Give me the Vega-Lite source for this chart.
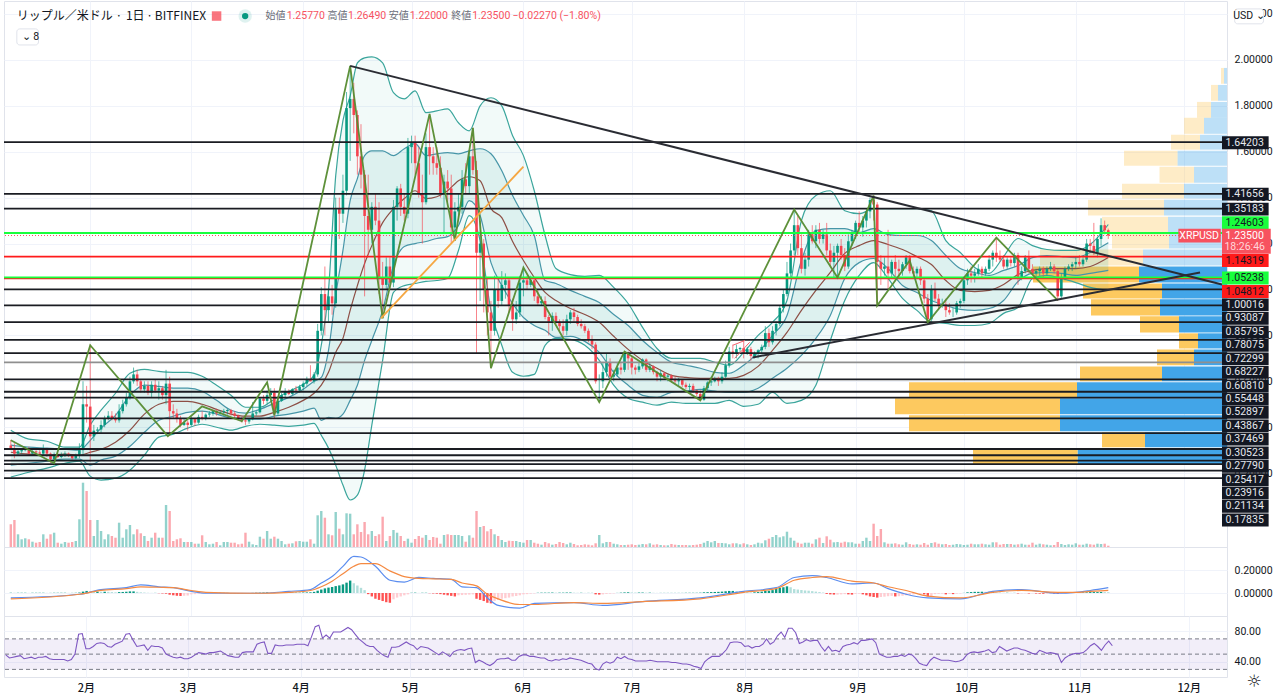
{
"$schema":"https://vega.github.io/schema/vega-lite/v6.json",
"padding":{"left":2,"top":0,"right":0,"bottom":0},
"background":"white",
"bounds":"flush",
"spacing":0,
"config":{"view":{"stroke":"#e0e3eb"},"font":"Roboto"},
"datasets":{
"candles":[
{"d":"2021-01-10","o":0.32,"h":0.345,"l":0.3,"c":0.31,"v":227,"m":0.003,"r":49},
{"d":"2021-01-11","o":0.31,"h":0.33,"l":0.265,"c":0.285,"v":270,"m":0.002,"r":45},
{"d":"2021-01-12","o":0.285,"h":0.305,"l":0.275,"c":0.295,"v":127,"m":0.002,"r":46},
{"d":"2021-01-13","o":0.295,"h":0.31,"l":0.285,"c":0.3,"v":77,"m":0.002,"r":47},
{"d":"2021-01-14","o":0.3,"h":0.315,"l":0.295,"c":0.305,"v":87,"m":0.002,"r":48},
{"d":"2021-01-15","o":0.305,"h":0.315,"l":0.275,"c":0.285,"v":77,"m":0.001,"r":44},
{"d":"2021-01-16","o":0.285,"h":0.3,"l":0.28,"c":0.295,"v":53,"m":0.002,"r":45},
{"d":"2021-01-17","o":0.295,"h":0.3,"l":0.285,"c":0.29,"v":43,"m":0.002,"r":46},
{"d":"2021-01-18","o":0.29,"h":0.3,"l":0.28,"c":0.285,"v":50,"m":0.002,"r":44},
{"d":"2021-01-19","o":0.285,"h":0.325,"l":0.275,"c":0.305,"v":127,"m":0.002,"r":46},
{"d":"2021-01-20","o":0.305,"h":0.31,"l":0.27,"c":0.285,"v":83,"m":0.001,"r":46},
{"d":"2021-01-21","o":0.285,"h":0.29,"l":0.245,"c":0.26,"v":127,"m":0.001,"r":47},
{"d":"2021-01-22","o":0.26,"h":0.29,"l":0.24,"c":0.28,"v":143,"m":0.002,"r":44},
{"d":"2021-01-23","o":0.28,"h":0.285,"l":0.265,"c":0.27,"v":43,"m":0.002,"r":43},
{"d":"2021-01-24","o":0.27,"h":0.29,"l":0.265,"c":0.28,"v":33,"m":0.002,"r":43},
{"d":"2021-01-25","o":0.28,"h":0.295,"l":0.27,"c":0.285,"v":50,"m":0.002,"r":43},
{"d":"2021-01-26","o":0.285,"h":0.29,"l":0.27,"c":0.275,"v":43,"m":0.001,"r":43},
{"d":"2021-01-27","o":0.275,"h":0.28,"l":0.255,"c":0.265,"v":50,"m":0.001,"r":41},
{"d":"2021-01-28","o":0.265,"h":0.285,"l":0.26,"c":0.275,"v":60,"m":0.002,"r":43},
{"d":"2021-01-29","o":0.275,"h":0.33,"l":0.265,"c":0.3,"v":277,"m":0.004,"r":50},
{"d":"2021-01-30","o":0.3,"h":0.6,"l":0.28,"c":0.5,"v":643,"m":0.012,"r":76},
{"d":"2021-01-31","o":0.5,"h":0.58,"l":0.42,"c":0.49,"v":560,"m":0.018,"r":77},
{"d":"2021-02-01","o":0.49,"h":0.76,"l":0.25,"c":0.36,"v":270,"m":0.014,"r":57},
{"d":"2021-02-02","o":0.36,"h":0.41,"l":0.34,"c":0.385,"v":110,"m":0.012,"r":57},
{"d":"2021-02-03","o":0.385,"h":0.4,"l":0.37,"c":0.39,"v":270,"m":0.012,"r":60},
{"d":"2021-02-04","o":0.39,"h":0.43,"l":0.375,"c":0.41,"v":160,"m":0.011,"r":64},
{"d":"2021-02-05","o":0.41,"h":0.45,"l":0.4,"c":0.44,"v":77,"m":0.011,"r":65},
{"d":"2021-02-06","o":0.44,"h":0.47,"l":0.43,"c":0.45,"v":127,"m":0.01,"r":64},
{"d":"2021-02-07","o":0.45,"h":0.47,"l":0.43,"c":0.44,"v":110,"m":0.008,"r":60},
{"d":"2021-02-08","o":0.44,"h":0.46,"l":0.42,"c":0.43,"v":93,"m":0.006,"r":59},
{"d":"2021-02-09","o":0.43,"h":0.5,"l":0.42,"c":0.47,"v":243,"m":0.008,"r":63},
{"d":"2021-02-10","o":0.47,"h":0.52,"l":0.46,"c":0.5,"v":93,"m":0.009,"r":65},
{"d":"2021-02-11","o":0.5,"h":0.55,"l":0.49,"c":0.53,"v":177,"m":0.011,"r":67},
{"d":"2021-02-12","o":0.53,"h":0.62,"l":0.52,"c":0.6,"v":220,"m":0.014,"r":76},
{"d":"2021-02-13","o":0.6,"h":0.66,"l":0.59,"c":0.63,"v":127,"m":0.014,"r":77},
{"d":"2021-02-14","o":0.63,"h":0.65,"l":0.58,"c":0.6,"v":177,"m":0.01,"r":68},
{"d":"2021-02-15","o":0.6,"h":0.61,"l":0.55,"c":0.565,"v":137,"m":0.006,"r":60},
{"d":"2021-02-16","o":0.565,"h":0.6,"l":0.55,"c":0.58,"v":110,"m":0.004,"r":61},
{"d":"2021-02-17","o":0.58,"h":0.6,"l":0.54,"c":0.55,"v":60,"m":0.002,"r":62},
{"d":"2021-02-18","o":0.55,"h":0.6,"l":0.53,"c":0.585,"v":93,"m":0.001,"r":55},
{"d":"2021-02-19","o":0.585,"h":0.61,"l":0.55,"c":0.56,"v":143,"m":0.001,"r":61},
{"d":"2021-02-20","o":0.56,"h":0.6,"l":0.52,"c":0.57,"v":93,"m":-0.002,"r":60},
{"d":"2021-02-21","o":0.57,"h":0.58,"l":0.52,"c":0.54,"v":93,"m":-0.004,"r":60},
{"d":"2021-02-22","o":0.54,"h":0.65,"l":0.5,"c":0.59,"v":420,"m":-0.006,"r":58},
{"d":"2021-02-23","o":0.59,"h":0.62,"l":0.365,"c":0.47,"v":360,"m":-0.015,"r":50},
{"d":"2021-02-24","o":0.47,"h":0.5,"l":0.44,"c":0.46,"v":60,"m":-0.02,"r":48},
{"d":"2021-02-25","o":0.46,"h":0.48,"l":0.42,"c":0.44,"v":77,"m":-0.024,"r":46},
{"d":"2021-02-26","o":0.44,"h":0.45,"l":0.4,"c":0.41,"v":87,"m":-0.026,"r":45},
{"d":"2021-02-27","o":0.41,"h":0.44,"l":0.405,"c":0.42,"v":50,"m":-0.024,"r":46},
{"d":"2021-02-28","o":0.42,"h":0.43,"l":0.385,"c":0.41,"v":50,"m":-0.022,"r":44},
{"d":"2021-03-01","o":0.41,"h":0.445,"l":0.405,"c":0.435,"v":50,"m":-0.012,"r":44},
{"d":"2021-03-02","o":0.435,"h":0.44,"l":0.405,"c":0.42,"v":33,"m":-0.01,"r":46},
{"d":"2021-03-03","o":0.42,"h":0.455,"l":0.415,"c":0.445,"v":33,"m":-0.006,"r":49},
{"d":"2021-03-04","o":0.445,"h":0.47,"l":0.43,"c":0.44,"v":117,"m":-0.004,"r":52},
{"d":"2021-03-05","o":0.44,"h":0.46,"l":0.43,"c":0.455,"v":50,"m":-0.002,"r":51},
{"d":"2021-03-06","o":0.455,"h":0.47,"l":0.445,"c":0.46,"v":27,"m":0.001,"r":50},
{"d":"2021-03-07","o":0.46,"h":0.475,"l":0.45,"c":0.47,"v":33,"m":0.001,"r":52},
{"d":"2021-03-08","o":0.47,"h":0.48,"l":0.45,"c":0.46,"v":50,"m":0.001,"r":52},
{"d":"2021-03-09","o":0.46,"h":0.475,"l":0.455,"c":0.465,"v":17,"m":0.001,"r":53},
{"d":"2021-03-10","o":0.465,"h":0.48,"l":0.45,"c":0.47,"v":50,"m":0.001,"r":54},
{"d":"2021-03-11","o":0.47,"h":0.48,"l":0.455,"c":0.475,"v":50,"m":0.001,"r":51},
{"d":"2021-03-12","o":0.475,"h":0.48,"l":0.45,"c":0.46,"v":43,"m":-0.001,"r":48},
{"d":"2021-03-13","o":0.46,"h":0.47,"l":0.44,"c":0.45,"v":43,"m":-0.002,"r":47},
{"d":"2021-03-14","o":0.45,"h":0.455,"l":0.43,"c":0.44,"v":27,"m":-0.003,"r":46},
{"d":"2021-03-15","o":0.44,"h":0.445,"l":0.42,"c":0.43,"v":33,"m":-0.003,"r":46},
{"d":"2021-03-16","o":0.43,"h":0.445,"l":0.41,"c":0.425,"v":143,"m":-0.002,"r":52},
{"d":"2021-03-17","o":0.425,"h":0.44,"l":0.415,"c":0.435,"v":53,"m":-0.001,"r":53},
{"d":"2021-03-18","o":0.435,"h":0.51,"l":0.43,"c":0.46,"v":27,"m":0.001,"r":53},
{"d":"2021-03-19","o":0.46,"h":0.47,"l":0.45,"c":0.465,"v":20,"m":0.002,"r":53},
{"d":"2021-03-20","o":0.465,"h":0.53,"l":0.46,"c":0.525,"v":103,"m":0.003,"r":63},
{"d":"2021-03-21","o":0.525,"h":0.54,"l":0.5,"c":0.515,"v":83,"m":0.004,"r":65},
{"d":"2021-03-22","o":0.515,"h":0.56,"l":0.5,"c":0.54,"v":160,"m":0.005,"r":66},
{"d":"2021-03-23","o":0.54,"h":0.57,"l":0.53,"c":0.55,"v":83,"m":0.004,"r":51},
{"d":"2021-03-24","o":0.55,"h":0.57,"l":0.44,"c":0.46,"v":103,"m":0.002,"r":51},
{"d":"2021-03-25","o":0.46,"h":0.53,"l":0.45,"c":0.515,"v":83,"m":0.002,"r":62},
{"d":"2021-03-26","o":0.515,"h":0.55,"l":0.51,"c":0.54,"v":60,"m":0.002,"r":61},
{"d":"2021-03-27","o":0.54,"h":0.57,"l":0.53,"c":0.555,"v":27,"m":0.002,"r":61},
{"d":"2021-03-28","o":0.555,"h":0.565,"l":0.54,"c":0.545,"v":33,"m":0.002,"r":62},
{"d":"2021-03-29","o":0.545,"h":0.57,"l":0.54,"c":0.565,"v":37,"m":0.003,"r":62},
{"d":"2021-03-30","o":0.565,"h":0.58,"l":0.55,"c":0.56,"v":57,"m":0.003,"r":62},
{"d":"2021-03-31","o":0.56,"h":0.585,"l":0.55,"c":0.575,"v":60,"m":0.003,"r":63},
{"d":"2021-04-01","o":0.575,"h":0.6,"l":0.56,"c":0.59,"v":53,"m":0.004,"r":63},
{"d":"2021-04-02","o":0.59,"h":0.62,"l":0.58,"c":0.61,"v":53,"m":0.005,"r":63},
{"d":"2021-04-03","o":0.61,"h":0.67,"l":0.6,"c":0.6,"v":77,"m":0.006,"r":61},
{"d":"2021-04-04","o":0.6,"h":0.64,"l":0.59,"c":0.63,"v":33,"m":0.01,"r":73},
{"d":"2021-04-05","o":0.63,"h":0.85,"l":0.62,"c":0.82,"v":317,"m":0.02,"r":86},
{"d":"2021-04-06","o":0.82,"h":1.01,"l":0.8,"c":0.98,"v":360,"m":0.03,"r":88},
{"d":"2021-04-07","o":0.98,"h":1.1,"l":0.8,"c":0.91,"v":293,"m":0.04,"r":71},
{"d":"2021-04-08","o":0.91,"h":1.0,"l":0.86,"c":0.97,"v":127,"m":0.047,"r":75},
{"d":"2021-04-09","o":0.97,"h":1.02,"l":0.89,"c":0.94,"v":117,"m":0.052,"r":71},
{"d":"2021-04-10","o":0.94,"h":1.4,"l":0.92,"c":1.35,"v":350,"m":0.06,"r":79},
{"d":"2021-04-11","o":1.35,"h":1.4,"l":1.22,"c":1.33,"v":183,"m":0.066,"r":79},
{"d":"2021-04-12","o":1.33,"h":1.5,"l":1.29,"c":1.43,"v":127,"m":0.075,"r":79},
{"d":"2021-04-13","o":1.43,"h":1.86,"l":1.41,"c":1.79,"v":337,"m":0.09,"r":82},
{"d":"2021-04-14","o":1.79,"h":1.974,"l":1.56,"c":1.83,"v":333,"m":0.108,"r":85},
{"d":"2021-04-15","o":1.83,"h":1.9,"l":1.68,"c":1.76,"v":127,"m":0.085,"r":82},
{"d":"2021-04-16","o":1.76,"h":1.78,"l":1.5,"c":1.58,"v":227,"m":0.065,"r":76},
{"d":"2021-04-17","o":1.58,"h":1.72,"l":1.44,"c":1.5,"v":150,"m":0.045,"r":70},
{"d":"2021-04-18","o":1.5,"h":1.52,"l":0.97,"c":1.32,"v":250,"m":0.025,"r":66},
{"d":"2021-04-19","o":1.32,"h":1.5,"l":1.15,"c":1.26,"v":127,"m":-0.01,"r":62},
{"d":"2021-04-20","o":1.26,"h":1.38,"l":1.2,"c":1.36,"v":160,"m":-0.03,"r":60},
{"d":"2021-04-21","o":1.36,"h":1.42,"l":1.28,"c":1.3,"v":110,"m":-0.05,"r":60},
{"d":"2021-04-22","o":1.3,"h":1.38,"l":0.98,"c":1.05,"v":127,"m":-0.06,"r":55},
{"d":"2021-04-23","o":1.05,"h":1.12,"l":0.88,"c":1.02,"v":303,"m":-0.07,"r":51},
{"d":"2021-04-24","o":1.02,"h":1.14,"l":1.0,"c":1.1,"v":60,"m":-0.08,"r":48},
{"d":"2021-04-25","o":1.1,"h":1.14,"l":1.0,"c":1.03,"v":110,"m":-0.085,"r":46},
{"d":"2021-04-26","o":1.03,"h":1.39,"l":1.01,"c":1.36,"v":170,"m":-0.055,"r":59},
{"d":"2021-04-27","o":1.36,"h":1.45,"l":1.3,"c":1.44,"v":143,"m":-0.04,"r":59},
{"d":"2021-04-28","o":1.44,"h":1.46,"l":1.32,"c":1.36,"v":110,"m":-0.03,"r":60},
{"d":"2021-04-29","o":1.36,"h":1.42,"l":1.3,"c":1.33,"v":60,"m":-0.02,"r":63},
{"d":"2021-04-30","o":1.33,"h":1.66,"l":1.31,"c":1.62,"v":83,"m":-0.012,"r":66},
{"d":"2021-05-01","o":1.62,"h":1.67,"l":1.55,"c":1.64,"v":43,"m":0.002,"r":63},
{"d":"2021-05-02","o":1.64,"h":1.67,"l":1.5,"c":1.55,"v":80,"m":0.003,"r":61},
{"d":"2021-05-03","o":1.55,"h":1.62,"l":1.4,"c":1.42,"v":110,"m":0.001,"r":56},
{"d":"2021-05-04","o":1.42,"h":1.5,"l":1.2,"c":1.38,"v":93,"m":0.002,"r":60},
{"d":"2021-05-05","o":1.38,"h":1.68,"l":1.37,"c":1.62,"v":120,"m":0.002,"r":59},
{"d":"2021-05-06","o":1.62,"h":1.765,"l":1.5,"c":1.58,"v":70,"m":-0.002,"r":58},
{"d":"2021-05-07","o":1.58,"h":1.62,"l":1.5,"c":1.55,"v":100,"m":-0.004,"r":55},
{"d":"2021-05-08","o":1.55,"h":1.62,"l":1.5,"c":1.53,"v":93,"m":-0.006,"r":52},
{"d":"2021-05-09","o":1.53,"h":1.58,"l":1.4,"c":1.42,"v":33,"m":-0.01,"r":49},
{"d":"2021-05-10","o":1.42,"h":1.5,"l":1.25,"c":1.47,"v":120,"m":-0.015,"r":53},
{"d":"2021-05-11","o":1.47,"h":1.52,"l":1.38,"c":1.44,"v":127,"m":-0.02,"r":50},
{"d":"2021-05-12","o":1.44,"h":1.5,"l":1.2,"c":1.27,"v":120,"m":-0.025,"r":47},
{"d":"2021-05-13","o":1.27,"h":1.38,"l":1.213,"c":1.34,"v":120,"m":-0.03,"r":53},
{"d":"2021-05-14","o":1.34,"h":1.42,"l":1.3,"c":1.36,"v":120,"m":-0.02,"r":55},
{"d":"2021-05-15","o":1.36,"h":1.52,"l":1.33,"c":1.48,"v":110,"m":-0.018,"r":56},
{"d":"2021-05-16","o":1.48,"h":1.55,"l":1.42,"c":1.45,"v":53,"m":-0.016,"r":55},
{"d":"2021-05-17","o":1.45,"h":1.6,"l":1.42,"c":1.58,"v":117,"m":-0.014,"r":57},
{"d":"2021-05-18","o":1.58,"h":1.704,"l":1.5,"c":1.52,"v":93,"m":-0.012,"r":58},
{"d":"2021-05-19","o":1.52,"h":1.56,"l":0.72,"c":1.16,"v":360,"m":-0.05,"r":39},
{"d":"2021-05-20","o":1.16,"h":1.3,"l":0.95,"c":1.2,"v":200,"m":-0.06,"r":42},
{"d":"2021-05-21","o":1.2,"h":1.22,"l":0.9,"c":1.0,"v":210,"m":-0.07,"r":40},
{"d":"2021-05-22","o":1.0,"h":1.05,"l":0.8,"c":0.9,"v":157,"m":-0.085,"r":37},
{"d":"2021-05-23","o":0.9,"h":0.95,"l":0.657,"c":0.82,"v":180,"m":-0.09,"r":35},
{"d":"2021-05-24","o":0.82,"h":1.06,"l":0.8,"c":1.0,"v":127,"m":-0.07,"r":38},
{"d":"2021-05-25","o":1.0,"h":1.05,"l":0.92,"c":0.95,"v":110,"m":-0.06,"r":43},
{"d":"2021-05-26","o":0.95,"h":1.08,"l":0.93,"c":1.02,"v":70,"m":-0.05,"r":44},
{"d":"2021-05-27","o":1.02,"h":1.07,"l":0.96,"c":1.04,"v":50,"m":-0.045,"r":44},
{"d":"2021-05-28","o":1.04,"h":1.05,"l":0.9,"c":0.93,"v":63,"m":-0.04,"r":45},
{"d":"2021-05-29","o":0.93,"h":0.96,"l":0.82,"c":0.87,"v":60,"m":-0.03,"r":42},
{"d":"2021-05-30","o":0.87,"h":0.95,"l":0.85,"c":0.9,"v":60,"m":-0.025,"r":42},
{"d":"2021-05-31","o":0.9,"h":1.06,"l":0.88,"c":1.03,"v":50,"m":-0.02,"r":47},
{"d":"2021-06-01","o":1.03,"h":1.09,"l":0.97,"c":1.04,"v":43,"m":-0.012,"r":49},
{"d":"2021-06-02","o":1.04,"h":1.06,"l":1.0,"c":1.02,"v":70,"m":-0.01,"r":49},
{"d":"2021-06-03","o":1.02,"h":1.06,"l":1.01,"c":1.04,"v":70,"m":-0.006,"r":47},
{"d":"2021-06-04","o":1.04,"h":1.05,"l":0.95,"c":0.97,"v":43,"m":-0.004,"r":47},
{"d":"2021-06-05","o":0.97,"h":1.0,"l":0.93,"c":0.94,"v":33,"m":0.002,"r":46},
{"d":"2021-06-06","o":0.94,"h":0.97,"l":0.93,"c":0.95,"v":23,"m":0.003,"r":45},
{"d":"2021-06-07","o":0.95,"h":0.97,"l":0.87,"c":0.88,"v":50,"m":0.003,"r":45},
{"d":"2021-06-08","o":0.88,"h":0.89,"l":0.8,"c":0.86,"v":37,"m":0.003,"r":42},
{"d":"2021-06-09","o":0.86,"h":0.9,"l":0.82,"c":0.885,"v":23,"m":0.004,"r":41},
{"d":"2021-06-10","o":0.885,"h":0.9,"l":0.85,"c":0.86,"v":30,"m":0.003,"r":43},
{"d":"2021-06-11","o":0.86,"h":0.87,"l":0.82,"c":0.84,"v":50,"m":0.003,"r":42},
{"d":"2021-06-12","o":0.84,"h":0.87,"l":0.8,"c":0.82,"v":40,"m":0.003,"r":44},
{"d":"2021-06-13","o":0.82,"h":0.89,"l":0.8,"c":0.87,"v":27,"m":0.004,"r":43},
{"d":"2021-06-14","o":0.87,"h":0.91,"l":0.85,"c":0.9,"v":43,"m":0.004,"r":45},
{"d":"2021-06-15","o":0.9,"h":0.92,"l":0.86,"c":0.88,"v":30,"m":0.003,"r":44},
{"d":"2021-06-16","o":0.88,"h":0.89,"l":0.84,"c":0.85,"v":17,"m":0.002,"r":43},
{"d":"2021-06-17","o":0.85,"h":0.87,"l":0.83,"c":0.84,"v":20,"m":0.002,"r":42},
{"d":"2021-06-18","o":0.84,"h":0.85,"l":0.81,"c":0.82,"v":27,"m":0.001,"r":40},
{"d":"2021-06-19","o":0.82,"h":0.83,"l":0.77,"c":0.78,"v":23,"m":0.001,"r":38},
{"d":"2021-06-20","o":0.78,"h":0.8,"l":0.74,"c":0.76,"v":17,"m":0.001,"r":37},
{"d":"2021-06-21","o":0.76,"h":0.77,"l":0.59,"c":0.6,"v":37,"m":-0.012,"r":31},
{"d":"2021-06-22","o":0.6,"h":0.63,"l":0.51,"c":0.6,"v":120,"m":-0.014,"r":29},
{"d":"2021-06-23","o":0.6,"h":0.68,"l":0.57,"c":0.64,"v":37,"m":-0.012,"r":37},
{"d":"2021-06-24","o":0.64,"h":0.72,"l":0.62,"c":0.68,"v":50,"m":-0.008,"r":40},
{"d":"2021-06-25","o":0.68,"h":0.7,"l":0.61,"c":0.62,"v":50,"m":-0.006,"r":38},
{"d":"2021-06-26","o":0.62,"h":0.65,"l":0.6,"c":0.63,"v":33,"m":-0.004,"r":40},
{"d":"2021-06-27","o":0.63,"h":0.68,"l":0.62,"c":0.66,"v":27,"m":0.001,"r":46},
{"d":"2021-06-28","o":0.66,"h":0.68,"l":0.63,"c":0.65,"v":20,"m":0.003,"r":44},
{"d":"2021-06-29","o":0.65,"h":0.73,"l":0.64,"c":0.72,"v":20,"m":0.005,"r":47},
{"d":"2021-06-30","o":0.72,"h":0.73,"l":0.65,"c":0.7,"v":23,"m":0.006,"r":44},
{"d":"2021-07-01","o":0.7,"h":0.71,"l":0.63,"c":0.66,"v":27,"m":0.005,"r":43},
{"d":"2021-07-02","o":0.66,"h":0.67,"l":0.63,"c":0.65,"v":20,"m":0.004,"r":41},
{"d":"2021-07-03","o":0.65,"h":0.68,"l":0.64,"c":0.665,"v":23,"m":0.004,"r":41},
{"d":"2021-07-04","o":0.665,"h":0.7,"l":0.655,"c":0.695,"v":30,"m":0.004,"r":41},
{"d":"2021-07-05","o":0.695,"h":0.7,"l":0.64,"c":0.65,"v":27,"m":0.003,"r":41},
{"d":"2021-07-06","o":0.65,"h":0.68,"l":0.64,"c":0.665,"v":37,"m":0.003,"r":42},
{"d":"2021-07-07","o":0.665,"h":0.67,"l":0.63,"c":0.64,"v":23,"m":0.002,"r":41},
{"d":"2021-07-08","o":0.64,"h":0.645,"l":0.6,"c":0.62,"v":27,"m":0.001,"r":40},
{"d":"2021-07-09","o":0.62,"h":0.65,"l":0.6,"c":0.635,"v":20,"m":0.001,"r":40},
{"d":"2021-07-10","o":0.635,"h":0.64,"l":0.61,"c":0.62,"v":17,"m":0.001,"r":40},
{"d":"2021-07-11","o":0.62,"h":0.63,"l":0.6,"c":0.625,"v":17,"m":0.001,"r":40},
{"d":"2021-07-12","o":0.625,"h":0.63,"l":0.595,"c":0.605,"v":30,"m":0.001,"r":39},
{"d":"2021-07-13","o":0.605,"h":0.62,"l":0.59,"c":0.6,"v":23,"m":0.001,"r":39},
{"d":"2021-07-14","o":0.6,"h":0.615,"l":0.58,"c":0.605,"v":20,"m":0.001,"r":38},
{"d":"2021-07-15","o":0.605,"h":0.61,"l":0.575,"c":0.585,"v":20,"m":0.001,"r":37},
{"d":"2021-07-16","o":0.585,"h":0.595,"l":0.565,"c":0.575,"v":20,"m":0.002,"r":37},
{"d":"2021-07-17","o":0.575,"h":0.59,"l":0.56,"c":0.58,"v":17,"m":0.002,"r":36},
{"d":"2021-07-18","o":0.58,"h":0.59,"l":0.55,"c":0.56,"v":20,"m":0.002,"r":34},
{"d":"2021-07-19","o":0.56,"h":0.565,"l":0.535,"c":0.545,"v":23,"m":0.002,"r":33},
{"d":"2021-07-20","o":0.545,"h":0.56,"l":0.515,"c":0.52,"v":30,"m":0.003,"r":31},
{"d":"2021-07-21","o":0.52,"h":0.58,"l":0.515,"c":0.57,"v":43,"m":0.006,"r":40},
{"d":"2021-07-22","o":0.57,"h":0.6,"l":0.56,"c":0.595,"v":60,"m":0.007,"r":44},
{"d":"2021-07-23","o":0.595,"h":0.62,"l":0.58,"c":0.6,"v":47,"m":0.008,"r":47},
{"d":"2021-07-24","o":0.6,"h":0.62,"l":0.595,"c":0.61,"v":60,"m":0.009,"r":47},
{"d":"2021-07-25","o":0.61,"h":0.62,"l":0.58,"c":0.6,"v":40,"m":0.01,"r":47},
{"d":"2021-07-26","o":0.6,"h":0.64,"l":0.59,"c":0.62,"v":40,"m":0.012,"r":51},
{"d":"2021-07-27","o":0.62,"h":0.69,"l":0.61,"c":0.67,"v":37,"m":0.015,"r":56},
{"d":"2021-07-28","o":0.67,"h":0.75,"l":0.66,"c":0.73,"v":27,"m":0.018,"r":65},
{"d":"2021-07-29","o":0.73,"h":0.76,"l":0.7,"c":0.72,"v":37,"m":0.018,"r":66},
{"d":"2021-07-30","o":0.72,"h":0.76,"l":0.7,"c":0.74,"v":37,"m":0.017,"r":66},
{"d":"2021-07-31","o":0.74,"h":0.75,"l":0.72,"c":0.745,"v":27,"m":0.015,"r":65},
{"d":"2021-08-01","o":0.745,"h":0.78,"l":0.7,"c":0.72,"v":37,"m":0.012,"r":60},
{"d":"2021-08-02","o":0.72,"h":0.75,"l":0.715,"c":0.74,"v":27,"m":0.008,"r":61},
{"d":"2021-08-03","o":0.74,"h":0.75,"l":0.69,"c":0.71,"v":20,"m":0.005,"r":58},
{"d":"2021-08-04","o":0.71,"h":0.73,"l":0.7,"c":0.72,"v":27,"m":0.006,"r":60},
{"d":"2021-08-05","o":0.72,"h":0.74,"l":0.7,"c":0.735,"v":43,"m":0.008,"r":60},
{"d":"2021-08-06","o":0.735,"h":0.76,"l":0.72,"c":0.75,"v":37,"m":0.012,"r":63},
{"d":"2021-08-07","o":0.75,"h":0.84,"l":0.74,"c":0.81,"v":67,"m":0.018,"r":70},
{"d":"2021-08-08","o":0.81,"h":0.83,"l":0.75,"c":0.77,"v":83,"m":0.02,"r":63},
{"d":"2021-08-09","o":0.77,"h":0.84,"l":0.76,"c":0.82,"v":100,"m":0.025,"r":66},
{"d":"2021-08-10","o":0.82,"h":0.86,"l":0.8,"c":0.85,"v":120,"m":0.035,"r":74},
{"d":"2021-08-11","o":0.85,"h":0.93,"l":0.84,"c":0.92,"v":97,"m":0.045,"r":79},
{"d":"2021-08-12","o":0.92,"h":1.0,"l":0.9,"c":0.98,"v":107,"m":0.05,"r":72},
{"d":"2021-08-13","o":0.98,"h":1.12,"l":0.97,"c":1.07,"v":153,"m":0.058,"r":84},
{"d":"2021-08-14","o":1.07,"h":1.2,"l":1.05,"c":1.17,"v":93,"m":0.05,"r":84},
{"d":"2021-08-15","o":1.17,"h":1.348,"l":1.15,"c":1.28,"v":63,"m":0.034,"r":78},
{"d":"2021-08-16","o":1.28,"h":1.32,"l":1.15,"c":1.18,"v":43,"m":0.03,"r":64},
{"d":"2021-08-17","o":1.18,"h":1.24,"l":1.07,"c":1.09,"v":33,"m":0.026,"r":66},
{"d":"2021-08-18","o":1.09,"h":1.16,"l":1.06,"c":1.13,"v":43,"m":0.022,"r":69},
{"d":"2021-08-19","o":1.13,"h":1.26,"l":1.1,"c":1.24,"v":43,"m":0.02,"r":67},
{"d":"2021-08-20","o":1.24,"h":1.28,"l":1.2,"c":1.21,"v":33,"m":0.016,"r":68},
{"d":"2021-08-21","o":1.21,"h":1.28,"l":1.18,"c":1.26,"v":77,"m":0.012,"r":68},
{"d":"2021-08-22","o":1.26,"h":1.29,"l":1.2,"c":1.22,"v":93,"m":0.008,"r":60},
{"d":"2021-08-23","o":1.22,"h":1.26,"l":1.2,"c":1.24,"v":40,"m":0.004,"r":54},
{"d":"2021-08-24","o":1.24,"h":1.29,"l":1.15,"c":1.17,"v":107,"m":-0.008,"r":60},
{"d":"2021-08-25","o":1.17,"h":1.2,"l":1.1,"c":1.12,"v":73,"m":-0.012,"r":54},
{"d":"2021-08-26","o":1.12,"h":1.19,"l":1.05,"c":1.16,"v":47,"m":-0.014,"r":55},
{"d":"2021-08-27","o":1.16,"h":1.2,"l":1.052,"c":1.19,"v":50,"m":-0.014,"r":53},
{"d":"2021-08-28","o":1.19,"h":1.22,"l":1.13,"c":1.15,"v":43,"m":-0.012,"r":60},
{"d":"2021-08-29","o":1.15,"h":1.18,"l":1.08,"c":1.1,"v":53,"m":-0.01,"r":62},
{"d":"2021-08-30","o":1.1,"h":1.24,"l":1.09,"c":1.21,"v":47,"m":-0.012,"r":63},
{"d":"2021-08-31","o":1.21,"h":1.26,"l":1.19,"c":1.25,"v":47,"m":-0.014,"r":65},
{"d":"2021-09-01","o":1.25,"h":1.3,"l":1.22,"c":1.29,"v":33,"m":-0.008,"r":63},
{"d":"2021-09-02","o":1.29,"h":1.34,"l":1.25,"c":1.27,"v":33,"m":-0.006,"r":68},
{"d":"2021-09-03","o":1.27,"h":1.32,"l":1.23,"c":1.3,"v":60,"m":-0.012,"r":68},
{"d":"2021-09-04","o":1.3,"h":1.35,"l":1.27,"c":1.34,"v":93,"m":-0.02,"r":69},
{"d":"2021-09-05","o":1.34,"h":1.4,"l":1.31,"c":1.39,"v":60,"m":-0.03,"r":70},
{"d":"2021-09-06","o":1.39,"h":1.409,"l":1.3,"c":1.37,"v":233,"m":-0.035,"r":65},
{"d":"2021-09-07","o":1.37,"h":1.38,"l":0.93,"c":1.12,"v":110,"m":-0.04,"r":50},
{"d":"2021-09-08","o":1.12,"h":1.15,"l":1.02,"c":1.09,"v":180,"m":-0.035,"r":48},
{"d":"2021-09-09","o":1.09,"h":1.14,"l":1.06,"c":1.1,"v":47,"m":-0.032,"r":46},
{"d":"2021-09-10","o":1.1,"h":1.26,"l":1.0,"c":1.07,"v":33,"m":-0.028,"r":46},
{"d":"2021-09-11","o":1.07,"h":1.13,"l":1.05,"c":1.12,"v":33,"m":-0.025,"r":47},
{"d":"2021-09-12","o":1.12,"h":1.15,"l":1.04,"c":1.09,"v":37,"m":-0.03,"r":47},
{"d":"2021-09-13","o":1.09,"h":1.13,"l":1.05,"c":1.08,"v":27,"m":-0.028,"r":49},
{"d":"2021-09-14","o":1.08,"h":1.12,"l":1.06,"c":1.11,"v":23,"m":-0.024,"r":47},
{"d":"2021-09-15","o":1.11,"h":1.15,"l":1.09,"c":1.14,"v":47,"m":-0.02,"r":50},
{"d":"2021-09-16","o":1.14,"h":1.15,"l":1.07,"c":1.08,"v":30,"m":-0.016,"r":49},
{"d":"2021-09-17","o":1.08,"h":1.1,"l":1.05,"c":1.07,"v":23,"m":-0.012,"r":44},
{"d":"2021-09-18","o":1.07,"h":1.1,"l":1.05,"c":1.09,"v":27,"m":-0.008,"r":38},
{"d":"2021-09-19","o":1.09,"h":1.1,"l":1.02,"c":1.04,"v":23,"m":-0.006,"r":36},
{"d":"2021-09-20","o":1.04,"h":1.05,"l":0.94,"c":0.96,"v":40,"m":-0.012,"r":35},
{"d":"2021-09-21","o":0.96,"h":0.98,"l":0.86,"c":0.87,"v":23,"m":-0.03,"r":42},
{"d":"2021-09-22","o":0.87,"h":1.02,"l":0.86,"c":1.0,"v":40,"m":-0.03,"r":46},
{"d":"2021-09-23","o":1.0,"h":1.03,"l":0.95,"c":0.96,"v":47,"m":-0.01,"r":44},
{"d":"2021-09-24","o":0.96,"h":0.98,"l":0.91,"c":0.93,"v":33,"m":-0.008,"r":42},
{"d":"2021-09-25","o":0.93,"h":0.96,"l":0.92,"c":0.935,"v":27,"m":-0.006,"r":42},
{"d":"2021-09-26","o":0.935,"h":0.96,"l":0.88,"c":0.91,"v":30,"m":-0.012,"r":42},
{"d":"2021-09-27","o":0.91,"h":0.94,"l":0.89,"c":0.9,"v":20,"m":-0.008,"r":41},
{"d":"2021-09-28","o":0.9,"h":0.92,"l":0.88,"c":0.9,"v":23,"m":-0.01,"r":40},
{"d":"2021-09-29","o":0.9,"h":0.95,"l":0.89,"c":0.94,"v":30,"m":-0.006,"r":41},
{"d":"2021-09-30","o":0.94,"h":0.96,"l":0.92,"c":0.95,"v":27,"m":-0.004,"r":43},
{"d":"2021-10-01","o":0.95,"h":1.05,"l":0.94,"c":1.04,"v":20,"m":0.001,"r":49},
{"d":"2021-10-02","o":1.04,"h":1.09,"l":1.02,"c":1.07,"v":23,"m":0.006,"r":52},
{"d":"2021-10-03","o":1.07,"h":1.1,"l":1.03,"c":1.06,"v":33,"m":0.008,"r":53},
{"d":"2021-10-04","o":1.06,"h":1.09,"l":1.03,"c":1.07,"v":27,"m":0.01,"r":52},
{"d":"2021-10-05","o":1.07,"h":1.11,"l":1.06,"c":1.09,"v":27,"m":0.01,"r":53},
{"d":"2021-10-06","o":1.09,"h":1.1,"l":1.05,"c":1.07,"v":33,"m":0.011,"r":54},
{"d":"2021-10-07","o":1.07,"h":1.1,"l":1.06,"c":1.09,"v":27,"m":0.01,"r":56},
{"d":"2021-10-08","o":1.09,"h":1.15,"l":1.08,"c":1.13,"v":23,"m":0.01,"r":52},
{"d":"2021-10-09","o":1.13,"h":1.17,"l":1.1,"c":1.16,"v":47,"m":0.011,"r":53},
{"d":"2021-10-10","o":1.16,"h":1.226,"l":1.12,"c":1.14,"v":47,"m":0.005,"r":60},
{"d":"2021-10-11","o":1.14,"h":1.17,"l":1.12,"c":1.13,"v":23,"m":0.004,"r":57},
{"d":"2021-10-12","o":1.13,"h":1.15,"l":1.09,"c":1.1,"v":30,"m":0.002,"r":54},
{"d":"2021-10-13","o":1.1,"h":1.14,"l":1.09,"c":1.13,"v":30,"m":0.002,"r":56},
{"d":"2021-10-14","o":1.13,"h":1.14,"l":1.1,"c":1.115,"v":30,"m":0.001,"r":58},
{"d":"2021-10-15","o":1.115,"h":1.16,"l":1.1,"c":1.15,"v":23,"m":0.001,"r":58},
{"d":"2021-10-16","o":1.15,"h":1.16,"l":1.02,"c":1.05,"v":27,"m":-0.004,"r":56},
{"d":"2021-10-17","o":1.05,"h":1.1,"l":1.04,"c":1.08,"v":33,"m":-0.004,"r":55},
{"d":"2021-10-18","o":1.08,"h":1.15,"l":1.07,"c":1.14,"v":23,"m":-0.003,"r":53},
{"d":"2021-10-19","o":1.14,"h":1.17,"l":1.07,"c":1.09,"v":23,"m":-0.004,"r":51},
{"d":"2021-10-20","o":1.09,"h":1.11,"l":1.06,"c":1.07,"v":43,"m":-0.003,"r":50},
{"d":"2021-10-21","o":1.07,"h":1.09,"l":1.05,"c":1.08,"v":23,"m":-0.005,"r":55},
{"d":"2021-10-22","o":1.08,"h":1.1,"l":1.06,"c":1.09,"v":33,"m":-0.006,"r":53},
{"d":"2021-10-23","o":1.09,"h":1.1,"l":1.05,"c":1.07,"v":27,"m":-0.007,"r":51},
{"d":"2021-10-24","o":1.07,"h":1.1,"l":1.06,"c":1.09,"v":23,"m":-0.006,"r":52},
{"d":"2021-10-25","o":1.09,"h":1.12,"l":1.08,"c":1.1,"v":17,"m":-0.004,"r":51},
{"d":"2021-10-26","o":1.1,"h":1.11,"l":1.07,"c":1.08,"v":20,"m":-0.006,"r":50},
{"d":"2021-10-27","o":1.08,"h":1.09,"l":0.95,"c":0.97,"v":50,"m":-0.008,"r":39},
{"d":"2021-10-28","o":0.97,"h":1.07,"l":0.96,"c":1.05,"v":30,"m":-0.006,"r":45},
{"d":"2021-10-29","o":1.05,"h":1.1,"l":1.04,"c":1.09,"v":20,"m":-0.004,"r":48},
{"d":"2021-10-30","o":1.09,"h":1.11,"l":1.08,"c":1.1,"v":27,"m":-0.002,"r":50},
{"d":"2021-10-31","o":1.1,"h":1.12,"l":1.08,"c":1.11,"v":23,"m":-0.001,"r":51},
{"d":"2021-11-01","o":1.11,"h":1.14,"l":1.09,"c":1.12,"v":37,"m":0.002,"r":51},
{"d":"2021-11-02","o":1.12,"h":1.15,"l":1.1,"c":1.11,"v":23,"m":0.004,"r":52},
{"d":"2021-11-03","o":1.11,"h":1.14,"l":1.1,"c":1.13,"v":23,"m":0.005,"r":56},
{"d":"2021-11-04","o":1.13,"h":1.22,"l":1.12,"c":1.2,"v":33,"m":0.006,"r":61},
{"d":"2021-11-05","o":1.2,"h":1.22,"l":1.16,"c":1.19,"v":27,"m":0.008,"r":64},
{"d":"2021-11-06","o":1.19,"h":1.29,"l":1.15,"c":1.16,"v":23,"m":0.008,"r":60},
{"d":"2021-11-07","o":1.16,"h":1.23,"l":1.14,"c":1.22,"v":33,"m":0.008,"r":55},
{"d":"2021-11-08","o":1.22,"h":1.31,"l":1.19,"c":1.28,"v":30,"m":0.009,"r":62},
{"d":"2021-11-09","o":1.28,"h":1.3,"l":1.24,"c":1.258,"v":33,"m":0.008,"r":67},
{"d":"2021-11-10","o":1.258,"h":1.265,"l":1.22,"c":1.235,"v":13,"m":0.007,"r":61}
],
"bands":[
{"d":"2021-01-10","uo":0.387,"ui":0.322,"ma":0.291,"li":0.235,"lo":0.183},
{"d":"2021-01-15","uo":0.348,"ui":0.313,"ma":0.283,"li":0.243,"lo":0.204},
{"d":"2021-01-20","uo":0.339,"ui":0.309,"ma":0.278,"li":0.252,"lo":0.222},
{"d":"2021-01-25","uo":0.313,"ui":0.304,"ma":0.283,"li":0.261,"lo":0.243},
{"d":"2021-01-29","uo":0.313,"ui":0.3,"ma":0.278,"li":0.261,"lo":0.252},
{"d":"2021-02-01","uo":0.409,"ui":0.343,"ma":0.291,"li":0.235,"lo":0.187},
{"d":"2021-02-04","uo":0.474,"ui":0.396,"ma":0.304,"li":0.257,"lo":0.17},
{"d":"2021-02-08","uo":0.548,"ui":0.452,"ma":0.335,"li":0.274,"lo":0.178},
{"d":"2021-02-12","uo":0.635,"ui":0.539,"ma":0.387,"li":0.317,"lo":0.213},
{"d":"2021-02-16","uo":0.652,"ui":0.583,"ma":0.457,"li":0.378,"lo":0.278},
{"d":"2021-02-20","uo":0.643,"ui":0.578,"ma":0.5,"li":0.43,"lo":0.357},
{"d":"2021-02-24","uo":0.639,"ui":0.57,"ma":0.513,"li":0.448,"lo":0.37},
{"d":"2021-02-28","uo":0.639,"ui":0.57,"ma":0.513,"li":0.465,"lo":0.396},
{"d":"2021-03-04","uo":0.622,"ui":0.557,"ma":0.5,"li":0.47,"lo":0.413},
{"d":"2021-03-08","uo":0.583,"ui":0.517,"ma":0.478,"li":0.457,"lo":0.4},
{"d":"2021-03-12","uo":0.539,"ui":0.474,"ma":0.457,"li":0.439,"lo":0.387},
{"d":"2021-03-16","uo":0.487,"ui":0.461,"ma":0.448,"li":0.435,"lo":0.404},
{"d":"2021-03-20","uo":0.487,"ui":0.478,"ma":0.448,"li":0.435,"lo":0.413},
{"d":"2021-03-24","uo":0.522,"ui":0.504,"ma":0.465,"li":0.448,"lo":0.409},
{"d":"2021-03-28","uo":0.557,"ui":0.53,"ma":0.487,"li":0.457,"lo":0.404},
{"d":"2021-04-01","uo":0.587,"ui":0.565,"ma":0.517,"li":0.47,"lo":0.409},
{"d":"2021-04-04","uo":0.626,"ui":0.6,"ma":0.548,"li":0.483,"lo":0.417},
{"d":"2021-04-06","uo":0.757,"ui":0.617,"ma":0.583,"li":0.43,"lo":0.365},
{"d":"2021-04-08","uo":0.996,"ui":0.735,"ma":0.639,"li":0.443,"lo":0.309},
{"d":"2021-04-10","uo":1.496,"ui":0.974,"ma":0.726,"li":0.439,"lo":0.235},
{"d":"2021-04-12","uo":1.735,"ui":1.17,"ma":0.787,"li":0.457,"lo":0.148},
{"d":"2021-04-14","uo":1.843,"ui":1.387,"ma":0.909,"li":0.517,"lo":0.083},
{"d":"2021-04-16","uo":1.987,"ui":1.483,"ma":1.017,"li":0.583,"lo":0.104},
{"d":"2021-04-18","uo":2.009,"ui":1.583,"ma":1.113,"li":0.691,"lo":0.213},
{"d":"2021-04-20","uo":2.013,"ui":1.604,"ma":1.191,"li":0.778,"lo":0.409},
{"d":"2021-04-23","uo":1.987,"ui":1.604,"ma":1.291,"li":0.909,"lo":0.691},
{"d":"2021-04-26","uo":1.857,"ui":1.583,"ma":1.352,"li":1.104,"lo":0.987},
{"d":"2021-04-29","uo":1.83,"ui":1.613,"ma":1.396,"li":1.187,"lo":1.017},
{"d":"2021-05-02","uo":1.865,"ui":1.635,"ma":1.43,"li":1.2,"lo":1.026},
{"d":"2021-05-05","uo":1.77,"ui":1.583,"ma":1.396,"li":1.209,"lo":1.035},
{"d":"2021-05-08","uo":1.778,"ui":1.591,"ma":1.404,"li":1.222,"lo":1.039},
{"d":"2021-05-11","uo":1.787,"ui":1.596,"ma":1.43,"li":1.23,"lo":1.048},
{"d":"2021-05-14","uo":1.726,"ui":1.591,"ma":1.474,"li":1.278,"lo":1.17},
{"d":"2021-05-17","uo":1.691,"ui":1.604,"ma":1.491,"li":1.387,"lo":1.322},
{"d":"2021-05-20","uo":1.8,"ui":1.613,"ma":1.474,"li":1.322,"lo":1.213},
{"d":"2021-05-23","uo":1.835,"ui":1.591,"ma":1.352,"li":1.117,"lo":0.909},
{"d":"2021-05-26","uo":1.8,"ui":1.517,"ma":1.313,"li":1.017,"lo":0.757},
{"d":"2021-05-29","uo":1.67,"ui":1.409,"ma":1.209,"li":0.939,"lo":0.639},
{"d":"2021-06-01","uo":1.583,"ui":1.322,"ma":1.126,"li":0.878,"lo":0.622},
{"d":"2021-06-04","uo":1.43,"ui":1.235,"ma":1.052,"li":0.843,"lo":0.63},
{"d":"2021-06-07","uo":1.235,"ui":1.039,"ma":0.987,"li":0.822,"lo":0.757},
{"d":"2021-06-10","uo":1.091,"ui":1.026,"ma":0.952,"li":0.791,"lo":0.787},
{"d":"2021-06-14","uo":1.065,"ui":0.996,"ma":0.917,"li":0.796,"lo":0.783},
{"d":"2021-06-18","uo":1.057,"ui":0.97,"ma":0.891,"li":0.774,"lo":0.757},
{"d":"2021-06-22","uo":1.061,"ui":0.943,"ma":0.857,"li":0.726,"lo":0.691},
{"d":"2021-06-26","uo":1.009,"ui":0.891,"ma":0.796,"li":0.639,"lo":0.583},
{"d":"2021-06-30","uo":0.939,"ui":0.843,"ma":0.739,"li":0.583,"lo":0.526},
{"d":"2021-07-04","uo":0.835,"ui":0.778,"ma":0.691,"li":0.539,"lo":0.509},
{"d":"2021-07-08","uo":0.743,"ui":0.726,"ma":0.657,"li":0.53,"lo":0.496},
{"d":"2021-07-12","uo":0.7,"ui":0.683,"ma":0.626,"li":0.552,"lo":0.509},
{"d":"2021-07-16","uo":0.7,"ui":0.67,"ma":0.617,"li":0.557,"lo":0.504},
{"d":"2021-07-20","uo":0.7,"ui":0.657,"ma":0.613,"li":0.565,"lo":0.504},
{"d":"2021-07-24","uo":0.683,"ui":0.639,"ma":0.613,"li":0.557,"lo":0.504},
{"d":"2021-07-28","uo":0.67,"ui":0.635,"ma":0.613,"li":0.552,"lo":0.517},
{"d":"2021-08-01","uo":0.726,"ui":0.67,"ma":0.626,"li":0.552,"lo":0.491},
{"d":"2021-08-05","uo":0.8,"ui":0.726,"ma":0.665,"li":0.57,"lo":0.5},
{"d":"2021-08-09","uo":0.857,"ui":0.8,"ma":0.735,"li":0.613,"lo":0.552},
{"d":"2021-08-13","uo":0.952,"ui":0.887,"ma":0.813,"li":0.657,"lo":0.504},
{"d":"2021-08-17","uo":1.3,"ui":1.126,"ma":0.909,"li":0.713,"lo":0.517},
{"d":"2021-08-21","uo":1.409,"ui":1.257,"ma":0.996,"li":0.787,"lo":0.583},
{"d":"2021-08-25","uo":1.43,"ui":1.265,"ma":1.074,"li":0.887,"lo":0.778},
{"d":"2021-08-29","uo":1.343,"ui":1.265,"ma":1.157,"li":1.048,"lo":0.952},
{"d":"2021-09-02","uo":1.33,"ui":1.248,"ma":1.191,"li":1.117,"lo":1.061},
{"d":"2021-09-06","uo":1.352,"ui":1.265,"ma":1.213,"li":1.135,"lo":1.117},
{"d":"2021-09-10","uo":1.352,"ui":1.239,"ma":1.196,"li":1.091,"lo":1.048},
{"d":"2021-09-14","uo":1.352,"ui":1.235,"ma":1.174,"li":1.017,"lo":0.961},
{"d":"2021-09-18","uo":1.352,"ui":1.235,"ma":1.143,"li":0.987,"lo":0.909},
{"d":"2021-09-22","uo":1.343,"ui":1.213,"ma":1.109,"li":0.952,"lo":0.857},
{"d":"2021-09-26","uo":1.213,"ui":1.148,"ma":1.039,"li":0.93,"lo":0.852},
{"d":"2021-09-30","uo":1.161,"ui":1.091,"ma":0.996,"li":0.913,"lo":0.843},
{"d":"2021-10-04","uo":1.096,"ui":1.074,"ma":0.991,"li":0.909,"lo":0.843},
{"d":"2021-10-08","uo":1.07,"ui":1.061,"ma":0.996,"li":0.917,"lo":0.852},
{"d":"2021-10-12","uo":1.143,"ui":1.083,"ma":1.022,"li":0.952,"lo":0.896},
{"d":"2021-10-16","uo":1.222,"ui":1.104,"ma":1.065,"li":1.035,"lo":0.922},
{"d":"2021-10-20","uo":1.191,"ui":1.139,"ma":1.083,"li":1.07,"lo":1.048},
{"d":"2021-10-24","uo":1.174,"ui":1.148,"ma":1.091,"li":1.074,"lo":1.061},
{"d":"2021-10-28","uo":1.17,"ui":1.143,"ma":1.091,"li":1.07,"lo":1.048},
{"d":"2021-11-01","uo":1.17,"ui":1.139,"ma":1.091,"li":1.061,"lo":1.03},
{"d":"2021-11-05","uo":1.196,"ui":1.161,"ma":1.1,"li":1.07,"lo":1.009},
{"d":"2021-11-10","uo":1.283,"ui":1.204,"ma":1.139,"li":1.083,"lo":0.996}
],
"macd":[
{"d":"2021-01-10","line":-0.043,"signal":-0.051},
{"d":"2021-01-29","line":-0.011,"signal":-0.011},
{"d":"2021-02-04","line":0.03,"signal":0.022},
{"d":"2021-02-11","line":0.046,"signal":0.038},
{"d":"2021-02-15","line":0.07,"signal":0.054},
{"d":"2021-02-20","line":0.054,"signal":0.05},
{"d":"2021-02-24","line":0.046,"signal":0.046},
{"d":"2021-03-01","line":0.014,"signal":0.022},
{"d":"2021-03-05","line":-0.002,"signal":0.006},
{"d":"2021-03-20","line":-0.002,"signal":-0.002},
{"d":"2021-03-28","line":0.014,"signal":0.006},
{"d":"2021-04-03","line":0.03,"signal":0.022},
{"d":"2021-04-06","line":0.087,"signal":0.054},
{"d":"2021-04-09","line":0.143,"signal":0.103},
{"d":"2021-04-12","line":0.232,"signal":0.168},
{"d":"2021-04-15","line":0.319,"signal":0.232},
{"d":"2021-04-17","line":0.313,"signal":0.256},
{"d":"2021-04-21","line":0.232,"signal":0.256},
{"d":"2021-04-25","line":0.111,"signal":0.192},
{"d":"2021-04-29","line":0.095,"signal":0.143},
{"d":"2021-05-03","line":0.135,"signal":0.127},
{"d":"2021-05-07","line":0.127,"signal":0.123},
{"d":"2021-05-12","line":0.119,"signal":0.119},
{"d":"2021-05-15","line":0.054,"signal":0.087},
{"d":"2021-05-19","line":0.046,"signal":0.062},
{"d":"2021-05-22","line":-0.043,"signal":-0.011},
{"d":"2021-05-25","line":-0.108,"signal":-0.051},
{"d":"2021-05-31","line":-0.132,"signal":-0.1},
{"d":"2021-06-04","line":-0.091,"signal":-0.1},
{"d":"2021-06-15","line":-0.083,"signal":-0.083},
{"d":"2021-06-23","line":-0.108,"signal":-0.091},
{"d":"2021-07-04","line":-0.075,"signal":-0.075},
{"d":"2021-07-20","line":-0.043,"signal":-0.051},
{"d":"2021-08-01","line":0.014,"signal":0.006},
{"d":"2021-08-10","line":0.046,"signal":0.038},
{"d":"2021-08-15","line":0.135,"signal":0.111},
{"d":"2021-08-20","line":0.151,"signal":0.135},
{"d":"2021-08-24","line":0.135,"signal":0.143},
{"d":"2021-08-31","line":0.079,"signal":0.103},
{"d":"2021-09-06","line":0.087,"signal":0.087},
{"d":"2021-09-10","line":0.038,"signal":0.054},
{"d":"2021-09-15","line":-0.011,"signal":0.022},
{"d":"2021-09-21","line":-0.043,"signal":-0.027},
{"d":"2021-09-30","line":-0.051,"signal":-0.043},
{"d":"2021-10-09","line":0.014,"signal":0.006},
{"d":"2021-10-17","line":0.03,"signal":0.022},
{"d":"2021-10-27","line":-0.002,"signal":0.006},
{"d":"2021-11-01","line":0.006,"signal":0.006},
{"d":"2021-11-05","line":0.022,"signal":0.014},
{"d":"2021-11-10","line":0.046,"signal":0.022}
],
"levels":[
{"p":1.64203,"kind":"level"},{"p":1.41656,"kind":"level"},{"p":1.35183,"kind":"level"},{"p":1.00016,"kind":"level"},
{"p":0.93087,"kind":"level"},{"p":0.85795,"kind":"level"},{"p":0.78075,"kind":"level"},{"p":0.72299,"kind":"level"},
{"p":0.68227,"kind":"minor"},{"p":0.6081,"kind":"level"},{"p":0.55448,"kind":"level"},{"p":0.52897,"kind":"level"},
{"p":0.43867,"kind":"level"},{"p":0.37469,"kind":"level"},{"p":0.30523,"kind":"level"},{"p":0.2779,"kind":"level"},
{"p":0.25417,"kind":"level"},{"p":0.23916,"kind":"level"},{"p":0.21134,"kind":"level"},{"p":0.17835,"kind":"level"},
{"p":1.14319,"kind":"sell"},{"p":1.04812,"kind":"sell"},{"p":1.24603,"kind":"buy"},{"p":1.05238,"kind":"buy"}
],
"tags":[
{"label":"1.64203","tag":1.639,"kind":"level"},{"label":"1.41656","tag":1.415,"kind":"level"},{"label":"1.35183","tag":1.35,"kind":"level"},
{"label":"1.24603","tag":1.291,"kind":"buy"},{"label":"1.14319","tag":1.126,"kind":"sell"},{"label":"1.05238","tag":1.05,"kind":"buy"},
{"label":"1.04812","tag":0.991,"kind":"sell"},{"label":"1.00016","tag":0.933,"kind":"level"},{"label":"0.93087","tag":0.874,"kind":"level"},
{"label":"0.85795","tag":0.815,"kind":"level"},{"label":"0.78075","tag":0.757,"kind":"level"},{"label":"0.72299","tag":0.698,"kind":"level"},
{"label":"0.68227","tag":0.639,"kind":"level"},{"label":"0.60810","tag":0.58,"kind":"level"},{"label":"0.55448","tag":0.523,"kind":"level"},
{"label":"0.52897","tag":0.465,"kind":"level"},{"label":"0.43867","tag":0.406,"kind":"level"},{"label":"0.37469","tag":0.348,"kind":"level"},
{"label":"0.30523","tag":0.288,"kind":"level"},{"label":"0.27790","tag":0.23,"kind":"level"},{"label":"0.25417","tag":0.171,"kind":"level"},
{"label":"0.23916","tag":0.113,"kind":"level"},{"label":"0.21134","tag":0.055,"kind":"level"},{"label":"0.17835","tag":-0.004,"kind":"level"}
],
"profile":[
{"lo":1.896,"hi":1.965,"buy":3,"total":6},{"lo":1.822,"hi":1.891,"buy":9,"total":16},{"lo":1.748,"hi":1.817,"buy":16,"total":30},
{"lo":1.678,"hi":1.748,"buy":23,"total":43},{"lo":1.609,"hi":1.674,"buy":27,"total":56},{"lo":1.539,"hi":1.604,"buy":49.5,"total":103},
{"lo":1.465,"hi":1.535,"buy":33,"total":67.5},{"lo":1.396,"hi":1.461,"buy":43,"total":105},{"lo":1.322,"hi":1.391,"buy":63,"total":139},
{"lo":1.248,"hi":1.317,"buy":59,"total":125},{"lo":1.178,"hi":1.243,"buy":58,"total":115},{"lo":1.104,"hi":1.174,"buy":84,"total":187},
{"lo":1.03,"hi":1.1,"buy":88,"total":194},{"lo":0.961,"hi":1.026,"buy":65,"total":144},{"lo":0.887,"hi":0.957,"buy":67,"total":136},
{"lo":0.813,"hi":0.883,"buy":48,"total":87},{"lo":0.743,"hi":0.809,"buy":29,"total":48},{"lo":0.67,"hi":0.739,"buy":33,"total":70},
{"lo":0.6,"hi":0.665,"buy":65,"total":147},{"lo":0.53,"hi":0.596,"buy":150,"total":318},{"lo":0.457,"hi":0.526,"buy":167,"total":332},
{"lo":0.383,"hi":0.452,"buy":167,"total":318},{"lo":0.313,"hi":0.378,"buy":82,"total":125},{"lo":0.239,"hi":0.309,"buy":149.5,"total":254}
],
"zigzag":[
{"d":"2021-01-10","p":0.343},{"d":"2021-01-22","p":0.243},{"d":"2021-02-01","p":0.757},{"d":"2021-02-22T12:00:00Z","p":0.361},
{"d":"2021-03-04","p":0.491},{"d":"2021-03-15","p":0.426},{"d":"2021-03-22","p":0.596},{"d":"2021-03-24","p":0.452},
{"d":"2021-04-14","p":1.974},{"d":"2021-04-23","p":0.874},{"d":"2021-05-06","p":1.765},{"d":"2021-05-13","p":1.213},
{"d":"2021-05-18","p":1.704},{"d":"2021-05-23","p":0.657},{"d":"2021-06-01","p":1.096},{"d":"2021-06-22","p":0.509},
{"d":"2021-06-29","p":0.73},{"d":"2021-07-20","p":0.517},{"d":"2021-08-15","p":1.348},{"d":"2021-08-27","p":1.052},
{"d":"2021-09-06","p":1.409},{"d":"2021-09-07","p":0.93},{"d":"2021-09-16","p":1.126},{"d":"2021-09-21","p":0.857},
{"d":"2021-10-10","p":1.226},{"d":"2021-10-27","p":0.952}
],
"trends":[
{"id":"upper","kind":"trend","d":"2021-04-14","p":1.974},{"id":"upper","kind":"trend","d":"2021-12-11T12:00:00Z","p":1.022},
{"id":"lower","kind":"trend","d":"2021-08-03T12:00:00Z","p":0.704},{"id":"lower","kind":"trend","d":"2021-12-05T10:00:00Z","p":1.074},
{"id":"rise","kind":"rise","d":"2021-04-22T12:00:00Z","p":0.874},{"id":"rise","kind":"rise","d":"2021-06-01","p":1.535},
{"id":"flagtop","kind":"flag","d":"2021-07-29","p":0.757},{"id":"flagtop","kind":"flag","d":"2021-08-01T08:00:00Z","p":0.778},
{"id":"flagbase","kind":"flag","d":"2021-07-29T12:00:00Z","p":0.7},{"id":"flagbase","kind":"flag","d":"2021-08-02T16:00:00Z","p":0.77}
],
"header":[
{"d":"2021-01-11T16:00:00Z","p":2.191,"label":"リップル／米ドル","kind":"name"},
{"d":"2021-02-08T00:00:00Z","p":2.191,"label":"·","kind":"name"},
{"d":"2021-02-10T21:00:00Z","p":2.191,"label":"1日","kind":"name"},
{"d":"2021-02-16T12:00:00Z","p":2.191,"label":"·","kind":"name"},
{"d":"2021-02-18T21:00:00Z","p":2.191,"label":"BITFINEX","kind":"name"},
{"d":"2021-03-21T14:00:00Z","p":2.191,"label":"始値","kind":"field"},
{"d":"2021-03-27T10:00:00Z","p":2.191,"label":"1.25770","kind":"value"},
{"d":"2021-04-07T17:00:00Z","p":2.191,"label":"高値","kind":"field"},
{"d":"2021-04-13T10:00:00Z","p":2.191,"label":"1.26490","kind":"value"},
{"d":"2021-04-24T17:00:00Z","p":2.191,"label":"安値","kind":"field"},
{"d":"2021-04-30T12:00:00Z","p":2.191,"label":"1.22000","kind":"value"},
{"d":"2021-05-12T00:00:00Z","p":2.191,"label":"終値","kind":"field"},
{"d":"2021-05-17T19:00:00Z","p":2.191,"label":"1.23500","kind":"value"},
{"d":"2021-05-29T00:00:00Z","p":2.191,"label":"−0.02270 (−1.80%)","kind":"value"}
],
"buttons":[
{"d":"2021-01-11T16:00:00Z","e":"2021-01-17T16:00:00Z","p":2.065,"q":2.135},
{"d":"2021-12-15T00:00:00Z","e":"2021-12-23T00:00:00Z","p":2.157,"q":2.222}
],
"flags":[
{"d":"2021-12-11T12:00:00Z","e":"2021-12-25T00:00:00Z","p":1.156,"q":1.265},
{"d":"2021-11-29T10:00:00Z","e":"2021-12-11T04:00:00Z","p":1.205,"q":1.265}
],
"flagText":[
{"d":"2021-12-05T04:00:00Z","p":1.235,"label":"XRPUSD","kind":"price"},
{"d":"2021-12-17T19:00:00Z","p":1.235,"label":"1.23500","kind":"price"},
{"d":"2021-12-17T19:00:00Z","p":1.187,"label":"18:26:46","kind":"clock"}
]
},
"vconcat":[
{
"width":1223,
"height":546,
"layer":[
{
"data":{"name":"candles"},
"mark":{"type":"bar","size":2.4,"opacity":0.5},
"encoding":{
"x":{"field":"d","type":"temporal","scale":{"type":"utc","domain":["2021-01-09T12:00:00Z","2021-12-11T12:00:00Z"]},"axis":null},
"y":{"field":"v","type":"quantitative","scale":{"domain":[0,5460]},"axis":null},
"color":{"condition":{"test":"datum.c>=datum.o","value":"#26a69a"},"value":"#f7525f"}
}
},
{
"data":{"name":"profile"},
"layer":[
{
"mark":{"type":"rect"},
"encoding":{
"x":{"field":"buy","type":"quantitative","scale":{"domain":[1223,0]},"axis":null},
"x2":{"datum":0},
"y":{"field":"lo","type":"quantitative","scale":{"domain":[-0.1217,2.2565]},"axis":null},
"y2":{"field":"hi"},
"color":{"value":"#42a5e8"},
"opacity":{"condition":{"test":"datum.lo>=1.1","value":0.35},"value":1}
}
},
{
"mark":{"type":"rect"},
"encoding":{
"x":{"field":"total","type":"quantitative","scale":{"domain":[1223,0]},"axis":null},
"x2":{"field":"buy"},
"y":{"field":"lo","type":"quantitative","scale":{"domain":[-0.1217,2.2565]},"axis":null},
"y2":{"field":"hi"},
"color":{"value":"#fdc95f"},
"opacity":{"condition":{"test":"datum.lo>=1.1","value":0.35},"value":1}
}
}
]
},
{
"encoding":{
"x":{"field":"d","type":"temporal","scale":{"type":"utc","domain":["2021-01-09T12:00:00Z","2021-12-11T12:00:00Z"]},"axis":null},
"y":{"field":"p","type":"quantitative","scale":{"domain":[-0.1217,2.2565]},"axis":null,"title":null}
},
"layer":[
{
"data":{"name":"bands"},
"mark":{"type":"area","color":"#26a69a","opacity":0.06,"interpolate":"monotone"},
"encoding":{"y":{"field":"uo","type":"quantitative","axis":null,"title":null},"y2":{"field":"lo"}}
},
{
"data":{"name":"bands"},
"mark":{"type":"area","color":"#26a69a","opacity":0.1,"interpolate":"monotone"},
"encoding":{"y":{"field":"ui","type":"quantitative","axis":null,"title":null},"y2":{"field":"li"}}
},
{
"data":{"name":"bands"},
"mark":{"type":"line","color":"#3aa59c","strokeWidth":1.2,"interpolate":"monotone"},
"encoding":{"y":{"field":"uo","type":"quantitative","axis":null,"title":null}}
},
{
"data":{"name":"bands"},
"mark":{"type":"line","color":"#3aa59c","strokeWidth":1.2,"interpolate":"monotone"},
"encoding":{"y":{"field":"lo","type":"quantitative","axis":null,"title":null}}
},
{
"data":{"name":"bands"},
"mark":{"type":"line","color":"#4796a8","strokeWidth":1.2,"interpolate":"monotone"},
"encoding":{"y":{"field":"ui","type":"quantitative","axis":null,"title":null}}
},
{
"data":{"name":"bands"},
"mark":{"type":"line","color":"#4796a8","strokeWidth":1.2,"interpolate":"monotone"},
"encoding":{"y":{"field":"li","type":"quantitative","axis":null,"title":null}}
},
{
"data":{"name":"bands"},
"mark":{"type":"line","color":"#8d4f45","strokeWidth":1.2,"interpolate":"monotone"},
"encoding":{"y":{"field":"ma","type":"quantitative","axis":null,"title":null}}
},
{
"data":{"name":"candles"},
"mark":{"type":"rule","strokeWidth":1,"opacity":0.65},
"encoding":{
"y":{"field":"l","type":"quantitative","axis":null,"title":null},
"y2":{"field":"h"},
"color":{"condition":{"test":"datum.c>=datum.o","value":"#089981"},"value":"#f5434f"}
}
},
{
"data":{"name":"candles"},
"mark":{"type":"bar","size":2.6},
"encoding":{
"y":{"field":"o","type":"quantitative","axis":null,"title":null},
"y2":{"field":"c"},
"color":{"condition":{"test":"datum.c>=datum.o","value":"#089981"},"value":"#f5434f"}
}
},
{
"data":{"name":"levels"},
"mark":{"type":"rule","strokeWidth":1.8},
"encoding":{
"x":null,
"color":{"condition":[{"test":"datum.kind=='minor'","value":"#8f8f8f"},{"test":"datum.kind=='buy'","value":"#19ff3c"},{"test":"datum.kind=='sell'","value":"#ff1a1a"}],"value":"#1a1c22"}
}
},
{
"data":{"values":[{"p":1.235}]},
"mark":{"type":"rule","strokeWidth":1,"strokeDash":[1,2],"color":"#f7525f"},
"encoding":{"x":null}
},
{
"data":{"name":"zigzag"},
"mark":{"type":"line","color":"#558b2f","strokeWidth":1.8,"opacity":0.95},
"encoding":{}
},
{
"data":{"name":"trends"},
"transform":[{"filter":"datum.kind=='trend'"}],
"mark":{"type":"line","color":"#2a2c33","strokeWidth":2},
"encoding":{"detail":{"field":"id"}}
},
{
"data":{"name":"trends"},
"transform":[{"filter":"datum.kind=='rise'"}],
"mark":{"type":"line","color":"#f5a742","strokeWidth":1.8},
"encoding":{"detail":{"field":"id"}}
},
{
"data":{"name":"trends"},
"transform":[{"filter":"datum.kind=='flag'"}],
"mark":{"type":"line","color":"#f5606a","strokeWidth":1},
"encoding":{"detail":{"field":"id"}}
},
{
"data":{"name":"header"},
"transform":[{"filter":"datum.kind=='name'"}],
"mark":{"type":"text","align":"left","fontSize":12,"font":"Noto Sans CJK JP","color":"#131722"},
"encoding":{"text":{"field":"label"}}
},
{
"data":{"name":"header"},
"transform":[{"filter":"datum.kind=='field'"}],
"mark":{"type":"text","align":"left","fontSize":10,"font":"Noto Sans CJK JP","color":"#6a6d78"},
"encoding":{"text":{"field":"label"}}
},
{
"data":{"name":"header"},
"transform":[{"filter":"datum.kind=='value'"}],
"mark":{"type":"text","align":"left","fontSize":10.5,"font":"Roboto","color":"#f7525f"},
"encoding":{"text":{"field":"label"}}
},
{
"data":{"values":[{"d":"2021-03-08T00:00:00Z","p":2.191}]},
"mark":{"type":"point","shape":"square","filled":true,"size":90,"color":"#f7525f","opacity":0.8},
"encoding":{}
},
{
"data":{"values":[{"d":"2021-03-15T22:00:00Z","p":2.191}]},
"mark":{"type":"point","shape":"circle","filled":true,"size":180,"color":"#26a69a","opacity":0.15},
"encoding":{}
},
{
"data":{"values":[{"d":"2021-03-15T22:00:00Z","p":2.191}]},
"mark":{"type":"point","shape":"circle","filled":true,"size":40,"color":"#089981","opacity":1},
"encoding":{}
},
{
"data":{"name":"buttons"},
"mark":{"type":"rect","fill":"white","stroke":"#e0e3eb","cornerRadius":3},
"encoding":{
"x2":{"field":"e"},
"y":{"field":"p","type":"quantitative","axis":null,"title":null},
"y2":{"field":"q"}
}
},
{
"data":{"values":[{"d":"2021-12-19T00:00:00Z","p":2.191,"label":"USD ⌄"}]},
"mark":{"type":"text","fontSize":10.5,"color":"#131722"},
"encoding":{"text":{"field":"label"}}
},
{
"data":{"values":[{"d":"2021-01-13T00:00:00Z","p":2.1,"label":"⌄ 8"}]},
"mark":{"type":"text","align":"left","fontSize":10.5,"color":"#131722"},
"encoding":{"text":{"field":"label"}}
},
{
"data":{"name":"tags"},
"transform":[
{"calculate":"utc(2021,11,11,12)","as":"d"},
{"calculate":"utc(2021,11,24,10)","as":"e"},
{"calculate":"datum.tag-0.028","as":"p"},
{"calculate":"datum.tag+0.028","as":"q"}
],
"mark":{"type":"rect"},
"encoding":{
"x2":{"field":"e"},
"y":{"field":"p","type":"quantitative","axis":null,"title":null},
"y2":{"field":"q"},
"color":{"condition":[{"test":"datum.kind=='buy'","value":"#19ff3c"},{"test":"datum.kind=='sell'","value":"#ff1a1a"}],"value":"#131722"}
}
},
{
"data":{"name":"flags"},
"mark":{"type":"rect","color":"#f7525f"},
"encoding":{
"x2":{"field":"e"},
"y":{"field":"p","type":"quantitative","axis":null,"title":null},
"y2":{"field":"q"}
}
},
{
"data":{"name":"flagText"},
"transform":[{"filter":"datum.kind=='price'"}],
"mark":{"type":"text","fontSize":10.5,"color":"white"},
"encoding":{"text":{"field":"label"}}
},
{
"data":{"name":"flagText"},
"transform":[{"filter":"datum.kind=='clock'"}],
"mark":{"type":"text","fontSize":10.5,"color":"#ffd6d9"},
"encoding":{"text":{"field":"label"}}
},
{
"data":{"name":"tags"},
"transform":[{"filter":"datum.kind=='level'"},{"calculate":"utc(2021,11,17,19)","as":"d"}],
"mark":{"type":"text","fontSize":10.5,"color":"#e6e8ee"},
"encoding":{
"y":{"field":"tag","type":"quantitative","axis":null,"title":null},
"text":{"field":"label"}
}
},
{
"data":{"name":"tags"},
"transform":[{"filter":"datum.kind!='level'"},{"calculate":"utc(2021,11,17,19)","as":"d"}],
"mark":{"type":"text","fontSize":10.5,"color":"#131722"},
"encoding":{
"y":{"field":"tag","type":"quantitative","axis":null,"title":null},
"text":{"field":"label"}
}
},
{
"data":{"name":"bands"},
"mark":{"type":"point","opacity":0},
"encoding":{
"x":{"field":"d","type":"temporal","scale":{"type":"utc","domain":["2021-01-09T12:00:00Z","2021-12-11T12:00:00Z"]},
"axis":{"tickCount":{"interval":"month","step":1},"labels":false,"ticks":false,"domain":false,"title":null,"grid":true,"gridColor":"#f0f3fa"}},
"y":{"field":"uo","type":"quantitative","scale":{"domain":[-0.1217,2.2565]},
"axis":{"orient":"right","values":[2.2,2,1.8,1.6,1.4,1.2,1,0.8,0.6,0.4,0.2],"format":".5f","ticks":false,"domain":false,"title":null,"grid":true,"gridColor":"#f0f3fa","labelColor":"#131722","labelFontSize":10.5,"labelFont":"Roboto","labelPadding":7}}
}
}
],
"resolve":{"axis":{"x":"independent","y":"independent"}}
}
],
"resolve":{"scale":{"x":"independent","y":"independent"}}
},
{
"width":1223,
"height":69,
"layer":[
{
"data":{"name":"candles"},
"transform":[
{"window":[{"op":"lag","field":"m","param":1,"as":"pm"}]},
{"calculate":"datum.m>=0 ? (datum.m>=datum.pm ? 'up' : 'upfade') : (datum.m<datum.pm ? 'down' : 'downfade')","as":"shade"}
],
"mark":{"type":"bar","size":2.4},
"encoding":{
"x":{"field":"d","type":"temporal","scale":{"type":"utc","domain":["2021-01-09T12:00:00Z","2021-12-11T12:00:00Z"]},"axis":null},
"y":{"field":"m","type":"quantitative","scale":{"domain":[-0.189,0.37]},"axis":null,"title":null},
"color":{"condition":[{"test":"datum.shade=='up'","value":"#089981"},{"test":"datum.shade=='upfade'","value":"#b2dfdb"},{"test":"datum.shade=='down'","value":"#ff5252"}],"value":"#ffcdd2"}
}
},
{
"data":{"name":"macd"},
"mark":{"type":"line","color":"#5b8def","strokeWidth":1.2,"interpolate":"monotone"},
"encoding":{
"x":{"field":"d","type":"temporal","axis":null},
"y":{"field":"line","type":"quantitative","axis":null,"title":null}
}
},
{
"data":{"name":"macd"},
"mark":{"type":"line","color":"#f58a42","strokeWidth":1.2,"interpolate":"monotone"},
"encoding":{
"x":{"field":"d","type":"temporal","scale":{"type":"utc","domain":["2021-01-09T12:00:00Z","2021-12-11T12:00:00Z"]},
"axis":{"tickCount":{"interval":"month","step":1},"labels":false,"ticks":false,"domain":false,"title":null,"grid":true,"gridColor":"#f0f3fa"}},
"y":{"field":"signal","type":"quantitative","scale":{"domain":[-0.189,0.37]},
"axis":{"orient":"right","values":[0,0.2],"format":".5f","ticks":false,"domain":false,"title":null,"grid":true,"gridColor":"#f0f3fa","labelColor":"#131722","labelFontSize":10.5,"labelFont":"Roboto","labelPadding":7}}
}
}
],
"resolve":{"axis":{"x":"independent","y":"independent"}}
},
{
"width":1223,
"height":61,
"layer":[
{
"data":{"values":[{"lo":30,"hi":70}]},
"mark":{"type":"rect","color":"#7e57c2","opacity":0.1},
"encoding":{
"y":{"field":"lo","type":"quantitative","scale":{"domain":[21.7,94.7]},"axis":null,"title":null},
"y2":{"field":"hi"}
}
},
{
"data":{"values":[{"lvl":30},{"lvl":50},{"lvl":70}]},
"mark":{"type":"rule","color":"#787b86","strokeDash":[4,3],"strokeWidth":1},
"encoding":{"y":{"field":"lvl","type":"quantitative","axis":null,"title":null}}
},
{
"data":{"name":"candles"},
"mark":{"type":"line","color":"#7e57c2","strokeWidth":1.1},
"encoding":{
"x":{"field":"d","type":"temporal","axis":null},
"y":{"field":"r","type":"quantitative","axis":null,"title":null}
}
},
{
"data":{"values":[{"d":"2021-12-19T00:00:00Z","r":14,"label":"☼"}]},
"mark":{"type":"text","font":"DejaVu Sans","fontSize":17,"color":"#131722"},
"encoding":{
"x":{"field":"d","type":"temporal","scale":{"type":"utc","domain":["2021-01-09T12:00:00Z","2021-12-11T12:00:00Z"]},
"axis":{"tickCount":{"interval":"month","step":1},"labelExpr":"(utcmonth(datum.value)+1)+'月'","labelFont":"Noto Sans CJK JP","labelFontSize":11,"labelColor":"#131722","labelFontWeight":500,"labelPadding":5,"ticks":false,"domain":false,"title":null,"grid":true,"gridColor":"#f0f3fa"}},
"y":{"field":"r","type":"quantitative","scale":{"domain":[21.7,94.7]},
"axis":{"orient":"right","values":[40,80],"format":".2f","ticks":false,"domain":false,"title":null,"grid":true,"gridColor":"#f0f3fa","labelColor":"#131722","labelFontSize":10.5,"labelFont":"Roboto","labelPadding":7}},
"text":{"field":"label"}
}
}
],
"resolve":{"axis":{"x":"independent","y":"independent"}}
}
]
}
